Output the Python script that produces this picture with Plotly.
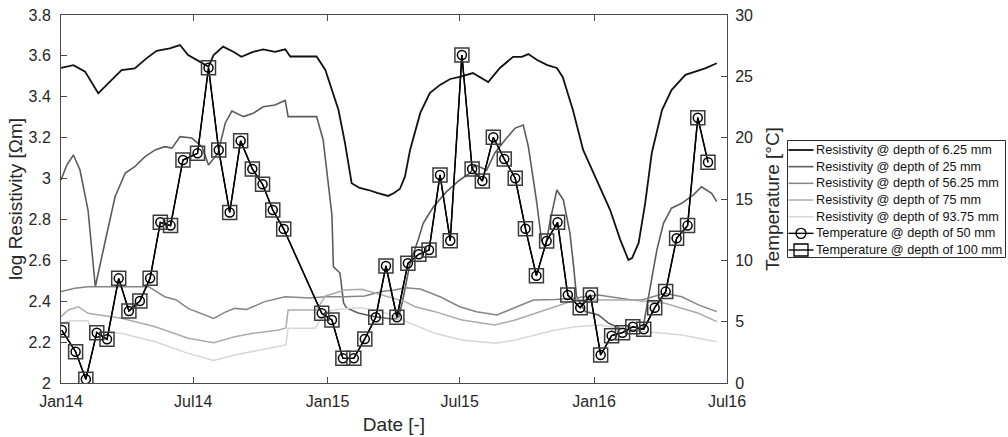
import pandas as pd
import plotly.graph_objects as go

START = pd.Timestamp("2014-01-01")

# ---- log resistivity series (day offset from 1 Jan 2014, log10 ohm-m) ----
res_625_days = [0, 17, 33, 51, 67, 83, 101, 117, 131, 149, 163, 174, 190, 202, 209, 222, 236, 247, 263, 277,
                293, 307, 314, 350, 362, 371, 380, 389, 398, 409, 421, 434, 448, 456, 464, 471, 478, 492, 505, 519,
                533, 546, 564, 585, 601, 619, 631, 640, 652, 666, 679, 687, 697, 701, 715, 738, 752, 766, 777, 782,
                791, 800, 809, 823, 836, 855, 868, 882, 898]
res_625_vals = [3.541, 3.555, 3.523, 3.417, 3.474, 3.531, 3.539, 3.588, 3.625, 3.637, 3.653, 3.604, 3.572, 3.547,
                3.604, 3.645, 3.620, 3.596, 3.620, 3.632, 3.620, 3.632, 3.597, 3.597, 3.531, 3.433, 3.335, 3.172,
                2.977, 2.954, 2.944, 2.929, 2.915, 2.929, 2.949, 3.009, 3.140, 3.321, 3.418, 3.458, 3.487, 3.497,
                3.516, 3.472, 3.541, 3.595, 3.595, 3.609, 3.580, 3.555, 3.541, 3.497, 3.384, 3.335, 3.140, 2.960,
                2.846, 2.699, 2.602, 2.611, 2.685, 2.880, 3.125, 3.335, 3.433, 3.507, 3.523, 3.539, 3.564]

res_25_days = [0, 8, 17, 26, 37, 47, 60, 74, 88, 101, 115, 129, 142, 152, 163, 179, 193, 202, 215, 225,
               234, 250, 263, 277, 293, 307, 311, 350, 359, 366, 371, 373, 382, 387, 391, 407, 430, 453, 462, 468,
               478, 489, 496, 510, 528, 546, 560, 567, 583, 594, 608, 622, 633, 640, 651, 658, 663, 670, 679, 688,
               697, 702, 706, 718, 736, 750, 768, 791, 797, 807, 816, 825, 836, 850, 866, 877, 891, 898]
res_25_vals = [2.993, 3.066, 3.115, 3.042, 2.846, 2.471, 2.685, 2.911, 3.027, 3.058, 3.107, 3.140, 3.156, 3.149,
               3.205, 3.198, 3.156, 3.066, 3.125, 3.272, 3.330, 3.303, 3.319, 3.351, 3.360, 3.382, 3.303, 3.303,
               3.189, 2.960, 2.822, 2.569, 2.538, 2.391, 2.367, 2.342, 2.324, 2.313, 2.316, 2.406, 2.587, 2.699,
               2.781, 2.862, 2.936, 2.993, 3.026, 3.066, 3.042, 3.125, 3.189, 3.247, 3.262, 3.156, 2.895, 2.699,
               2.660, 2.797, 2.944, 2.895, 2.732, 2.569, 2.422, 2.349, 2.333, 2.292, 2.263, 2.256, 2.268, 2.471,
               2.651, 2.781, 2.855, 2.879, 2.920, 2.960, 2.928, 2.887]

res_5625_days = [0, 19, 37, 120, 142, 158, 174, 190, 209, 225, 238, 254, 279, 307, 341, 362, 389, 416, 439, 457,
                 471, 492, 519, 546, 569, 597, 624, 647, 677, 704, 736, 782, 795, 827, 850, 873, 898]
res_5625_vals = [2.447, 2.463, 2.471, 2.471, 2.422, 2.406, 2.365, 2.341, 2.316, 2.347, 2.365, 2.360, 2.398, 2.422,
                 2.416, 2.422, 2.422, 2.426, 2.447, 2.455, 2.466, 2.460, 2.422, 2.373, 2.349, 2.333, 2.373, 2.406,
                 2.408, 2.416, 2.430, 2.406, 2.406, 2.439, 2.422, 2.382, 2.349]

res_75_days = [0, 10, 24, 37, 83, 129, 174, 209, 238, 263, 298, 308, 311, 350, 362, 389, 412, 439, 471, 485,
               512, 549, 594, 622, 649, 677, 704, 736, 782, 827, 873, 898]
res_75_vals = [2.324, 2.357, 2.373, 2.341, 2.317, 2.275, 2.219, 2.197, 2.226, 2.243, 2.259, 2.269, 2.357, 2.357,
               2.426, 2.455, 2.458, 2.430, 2.398, 2.373, 2.349, 2.308, 2.284, 2.308, 2.341, 2.373, 2.406, 2.406,
               2.406, 2.390, 2.341, 2.300]

res_9375_days = [0, 12, 37, 42, 83, 129, 174, 209, 238, 261, 298, 308, 311, 348, 362, 389, 412, 439, 457, 485,
                 512, 549, 594, 622, 649, 677, 704, 740, 772, 804, 850, 898]
res_9375_vals = [2.292, 2.305, 2.305, 2.251, 2.243, 2.202, 2.145, 2.110, 2.137, 2.153, 2.178, 2.186, 2.268, 2.268,
                 2.349, 2.365, 2.368, 2.349, 2.324, 2.284, 2.243, 2.210, 2.194, 2.210, 2.235, 2.259, 2.275, 2.284,
                 2.259, 2.251, 2.235, 2.202]

# ---- soil temperature samples ----
temp_dates = ["2014-01-02", "2014-01-21", "2014-02-04", "2014-02-19", "2014-03-05", "2014-03-21", "2014-04-04",
              "2014-04-19", "2014-05-03", "2014-05-17", "2014-05-31", "2014-06-17", "2014-07-07", "2014-07-22",
              "2014-08-05", "2014-08-20", "2014-09-04", "2014-09-20", "2014-10-04", "2014-10-18", "2014-11-02",
              "2014-12-24", "2015-01-07", "2015-01-22", "2015-02-06", "2015-02-21", "2015-03-08", "2015-03-22",
              "2015-04-06", "2015-04-21", "2015-05-06", "2015-05-20", "2015-06-04", "2015-06-18", "2015-07-04",
              "2015-07-18", "2015-08-01", "2015-08-16", "2015-08-31", "2015-09-15", "2015-09-29", "2015-10-14",
              "2015-10-28", "2015-11-12", "2015-11-26", "2015-12-13", "2015-12-27", "2016-01-10", "2016-01-25",
              "2016-02-09", "2016-02-23", "2016-03-09", "2016-03-24", "2016-04-08", "2016-04-23", "2016-05-08",
              "2016-05-22", "2016-06-05"]
temp_50mm = [4.32, 2.55, 0.30, 4.10, 3.56, 8.53, 5.87, 6.68, 8.53, 13.10, 12.83, 18.18, 18.72, 25.70, 18.99,
             13.90, 19.75, 17.45, 16.20, 14.10, 12.55, 5.68, 5.14, 2.01, 2.01, 3.59, 5.36, 9.54, 5.36, 9.76,
             10.49, 10.84, 16.96, 11.60, 26.74, 17.45, 16.47, 20.03, 18.26, 16.69, 12.58, 8.75, 11.58, 13.10,
             7.17, 6.14, 7.17, 2.28, 3.86, 4.10, 4.59, 4.38, 6.14, 7.45, 11.80, 12.83, 21.63, 17.99]
temp_100mm = [4.32, 2.55, 0.30, 4.10, 3.56, 8.53, 5.87, 6.68, 8.53, 13.10, 12.83, 18.18, 18.72, 25.70, 18.99,
              13.90, 19.75, 17.45, 16.20, 14.10, 12.55, 5.68, 5.14, 2.01, 2.01, 3.59, 5.36, 9.54, 5.36, 9.76,
              10.49, 10.84, 16.96, 11.60, 26.74, 17.45, 16.47, 20.03, 18.26, 16.69, 12.58, 8.75, 11.58, 13.10,
              7.17, 6.14, 7.17, 2.28, 3.86, 4.10, 4.59, 4.38, 6.14, 7.45, 11.80, 12.83, 21.63, 17.99]

# ---- axis ticks ----
x_tick_dates = ["2014-01-01", "2014-07-01", "2015-01-01", "2015-07-01", "2016-01-01", "2016-07-01"]
x_tick_text = ["Jan14", "Jul14", "Jan15", "Jul15", "Jan16", "Jul16"]


def to_dates(days):
    return START + pd.to_timedelta(days, unit="D")


FONT = "Arial, 'Liberation Sans', Helvetica, sans-serif"
TXT = "#262626"
AXC = "#4a4a4a"

W, H = 1008, 437
ML, MR, MT, MB = 61, 281, 15, 54
PW, PH = W - ML - MR, H - MT - MB


def px(xp):
    """pixel column -> paper x"""
    return (xp - ML) / PW


def py(yp):
    """pixel row -> paper y"""
    return (H - MB - yp) / PH


resistivity = [
    ("Resistivity @ depth of 6.25 mm", res_625_days, res_625_vals, "#111111", 1.8),
    ("Resistivity @ depth of 25 mm", res_25_days, res_25_vals, "#5c5c5c", 1.6),
    ("Resistivity @ depth of 56.25 mm", res_5625_days, res_5625_vals, "#858585", 1.5),
    ("Resistivity @ depth of 75 mm", res_75_days, res_75_vals, "#ababab", 1.5),
    ("Resistivity @ depth of 93.75 mm", res_9375_days, res_9375_vals, "#d6d6d6", 1.5),
]
temperature = [
    ("Temperature @ depth of 50 mm", temp_50mm, "circle", "#000000", 9),
    ("Temperature @ depth of 100 mm", temp_100mm, "square", "#3a3a3a", 14),
]

fig = go.Figure()
for name, d, v, col, w in resistivity:
    fig.add_trace(go.Scatter(x=to_dates(d), y=v, mode="lines", name=name,
                             line=dict(color=col, width=w), yaxis="y"))

for name, vals, sym, col, size in temperature:
    fig.add_trace(go.Scatter(x=pd.to_datetime(temp_dates), y=vals, mode="lines+markers",
                             name=name, yaxis="y2",
                             line=dict(color="#000000", width=1.4),
                             marker=dict(symbol=sym + "-open", size=size, color=col,
                                         line=dict(width=1.5, color=col))))

# ---- boxed legend to the right of the axes ----
shapes, annotations = [], []
box_l, box_r, box_t, box_b = 787.5, 1005.5, 140.5, 257.5
row0, row_step = 150.0, 16.67
samp_l, samp_r, samp_c, text_x = 788.5, 813.5, 801.0, 814.0
shapes.append(dict(type="rect", xref="paper", yref="paper",
                   x0=px(box_l), x1=px(box_r), y0=py(box_b), y1=py(box_t),
                   line=dict(color="#2b2b2b", width=1), fillcolor="white", layer="above"))
entries = [(n, c, w, None) for n, _, _, c, w in resistivity] + \
          [(n, "#000000", 1.4, sym) for n, _, sym, _, _ in temperature]
for i, (name, col, w, sym) in enumerate(entries):
    yc = row0 + i * row_step
    shapes.append(dict(type="line", xref="paper", yref="paper",
                       x0=px(samp_l), x1=px(samp_r), y0=py(yc), y1=py(yc),
                       line=dict(color=col, width=w), layer="above"))
    if sym == "circle":
        shapes.append(dict(type="circle", xref="paper", yref="paper",
                           xsizemode="pixel", ysizemode="pixel",
                           xanchor=px(samp_c), yanchor=py(yc),
                           x0=-5, x1=5, y0=-5, y1=5,
                           line=dict(color="#000000", width=1.4), fillcolor="rgba(0,0,0,0)",
                           layer="above"))
    elif sym == "square":
        shapes.append(dict(type="rect", xref="paper", yref="paper",
                           xsizemode="pixel", ysizemode="pixel",
                           xanchor=px(samp_c), yanchor=py(yc),
                           x0=-7, x1=7, y0=-6, y1=6,
                           line=dict(color="#000000", width=1.3), fillcolor="rgba(0,0,0,0)",
                           layer="above"))
    annotations.append(dict(text=name, xref="paper", yref="paper",
                            x=px(text_x), y=py(yc), xanchor="left", yanchor="middle",
                            showarrow=False, font=dict(family=FONT, size=12.7, color="#111111")))

fig.update_layout(
    width=W, height=H,
    margin=dict(l=ML, r=MR, t=MT, b=MB, autoexpand=False),
    paper_bgcolor="white", plot_bgcolor="white",
    font=dict(family=FONT, size=16, color=TXT),
    showlegend=False,
    shapes=shapes,
    annotations=annotations,
    xaxis=dict(type="date", range=["2014-01-01", "2016-07-01"], automargin=False,
               tickvals=pd.to_datetime(x_tick_dates), ticktext=x_tick_text,
               ticks="inside", ticklen=6, tickcolor=AXC, ticklabelstandoff=4,
               showline=True, linecolor=AXC, linewidth=1, mirror="ticks",
               showgrid=False, zeroline=False,
               tickfont=dict(size=16, color=TXT),
               title=dict(text="Date [-]", font=dict(size=19, color=TXT), standoff=8)),
    yaxis=dict(range=[2, 3.8], dtick=0.2, tick0=2, automargin=False,
               ticks="inside", ticklen=6, tickcolor=AXC, ticklabelstandoff=6,
               showline=True, linecolor=AXC, linewidth=1,
               showgrid=False, zeroline=False,
               tickfont=dict(size=16, color=TXT),
               title=dict(text="log Resistivity [Ωm]", font=dict(size=19, color=TXT), standoff=0)),
    yaxis2=dict(range=[0, 30], dtick=5, tick0=0, overlaying="y", side="right", automargin=False,
                ticks="inside", ticklen=6, tickcolor=AXC, ticklabelstandoff=4,
                showline=True, linecolor=AXC, linewidth=1,
                showgrid=False, zeroline=False,
                tickfont=dict(size=16, color=TXT),
                title=dict(text="Temperature [°C]", font=dict(size=19, color=TXT), standoff=13)),
)

fig.write_html("out.html")
